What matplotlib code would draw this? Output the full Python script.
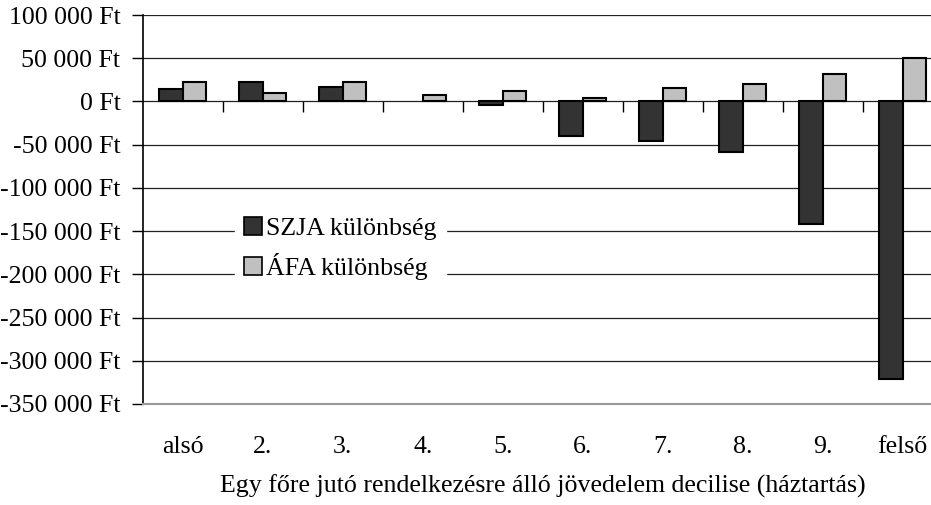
import matplotlib
matplotlib.use("Agg")
import matplotlib.pyplot as plt
import numpy as np
from matplotlib.patches import Patch
from matplotlib.ticker import FuncFormatter, FixedLocator

plt.rcParams['font.family'] = ['Liberation Serif', 'DejaVu Serif']

categories = ["alsó", "2.", "3.", "4.", "5.", "6.", "7.", "8.", "9.", "felső"]
szja = [14000, 22000, 17000, 0, -4500, -40500, -45500, -59000, -141500, -321500]
afa = [22000, 10000, 22000, 7500, 12500, 4500, 16000, 20500, 31500, 50000]
series_names = ["SZJA különbség", "ÁFA különbség"]
yticks = list(range(-350000, 100001, 50000))

FS = 18.6
fig = plt.figure(figsize=(9.31, 5.05), dpi=100)
W, H = 931, 505
ax_l, ax_r, ax_t, ax_b = 142.7, 942.7, 15, 404
ax = fig.add_axes([ax_l / W, 1 - ax_b / H, (ax_r - ax_l) / W, (ax_b - ax_t) / H])

x = np.arange(len(categories))
bw = 0.296
b1 = ax.bar(x - bw / 2, szja, bw, color="#333333", edgecolor="black", linewidth=1.5, zorder=3, label=series_names[0])
b2 = ax.bar(x + bw / 2, afa, bw, color="#c0c0c0", edgecolor="black", linewidth=1.5, zorder=3, label=series_names[1])
for cont in (b1, b2):
    for p in cont.patches:
        if p.get_height() == 0:
            p.set_linewidth(0)

ax.set_xlim(-0.5, len(categories) - 0.5)
ax.set_ylim(yticks[0], yticks[-1])
ax.set_yticks(yticks)
ax.yaxis.set_major_formatter(FuncFormatter(lambda v, p: f"{int(v):,} Ft".replace(",", " ")))
ax.tick_params(axis='y', direction='out', length=8, width=1, pad=8, labelsize=FS)
ax.yaxis.grid(True, color="#222222", linewidth=0.9, zorder=0)

ax.set_xticks(x)
ax.set_xticklabels(categories)
ax.tick_params(axis='x', length=0, pad=23, labelsize=FS)
ax.set_xlabel("Egy főre jutó rendelkezésre álló jövedelem decilise (háztartás)", fontsize=FS, labelpad=12)

for s in ['top', 'right']:
    ax.spines[s].set_visible(False)
ax.spines['bottom'].set_color("#999999")
ax.spines['bottom'].set_linewidth(1.5)
ax.spines['left'].set_linewidth(1.2)

# zero axis with separator ticks
loc0 = (0 - yticks[0]) / (yticks[-1] - yticks[0])
sec = ax.secondary_xaxis(loc0)
sec.xaxis.set_major_locator(FixedLocator(x[:-1] + 0.5))
sec.tick_params(axis='x', direction='out', length=8, width=1, labelbottom=False, labeltop=False, bottom=True, top=False)
sec.spines['bottom'].set_color("#555555")
sec.spines['bottom'].set_linewidth(1.2)
for s in ['top', 'left', 'right']:
    sec.spines[s].set_visible(False)

handles = [Patch(facecolor="#333333", edgecolor="black", linewidth=1.2),
           Patch(facecolor="#c0c0c0", edgecolor="black", linewidth=1.2)]
leg = ax.legend(handles, series_names, loc='upper left', bbox_to_anchor=(0.115, 0.505),
                fontsize=FS, frameon=True, fancybox=False, framealpha=1,
                handlelength=0.72, handleheight=0.72, handletextpad=0.15,
                labelspacing=0.5, borderpad=0.35, borderaxespad=0)
leg.get_frame().set_edgecolor("white")
leg.get_frame().set_facecolor("white")
leg.set_zorder(5)

fig.savefig("out.png", dpi=100)
